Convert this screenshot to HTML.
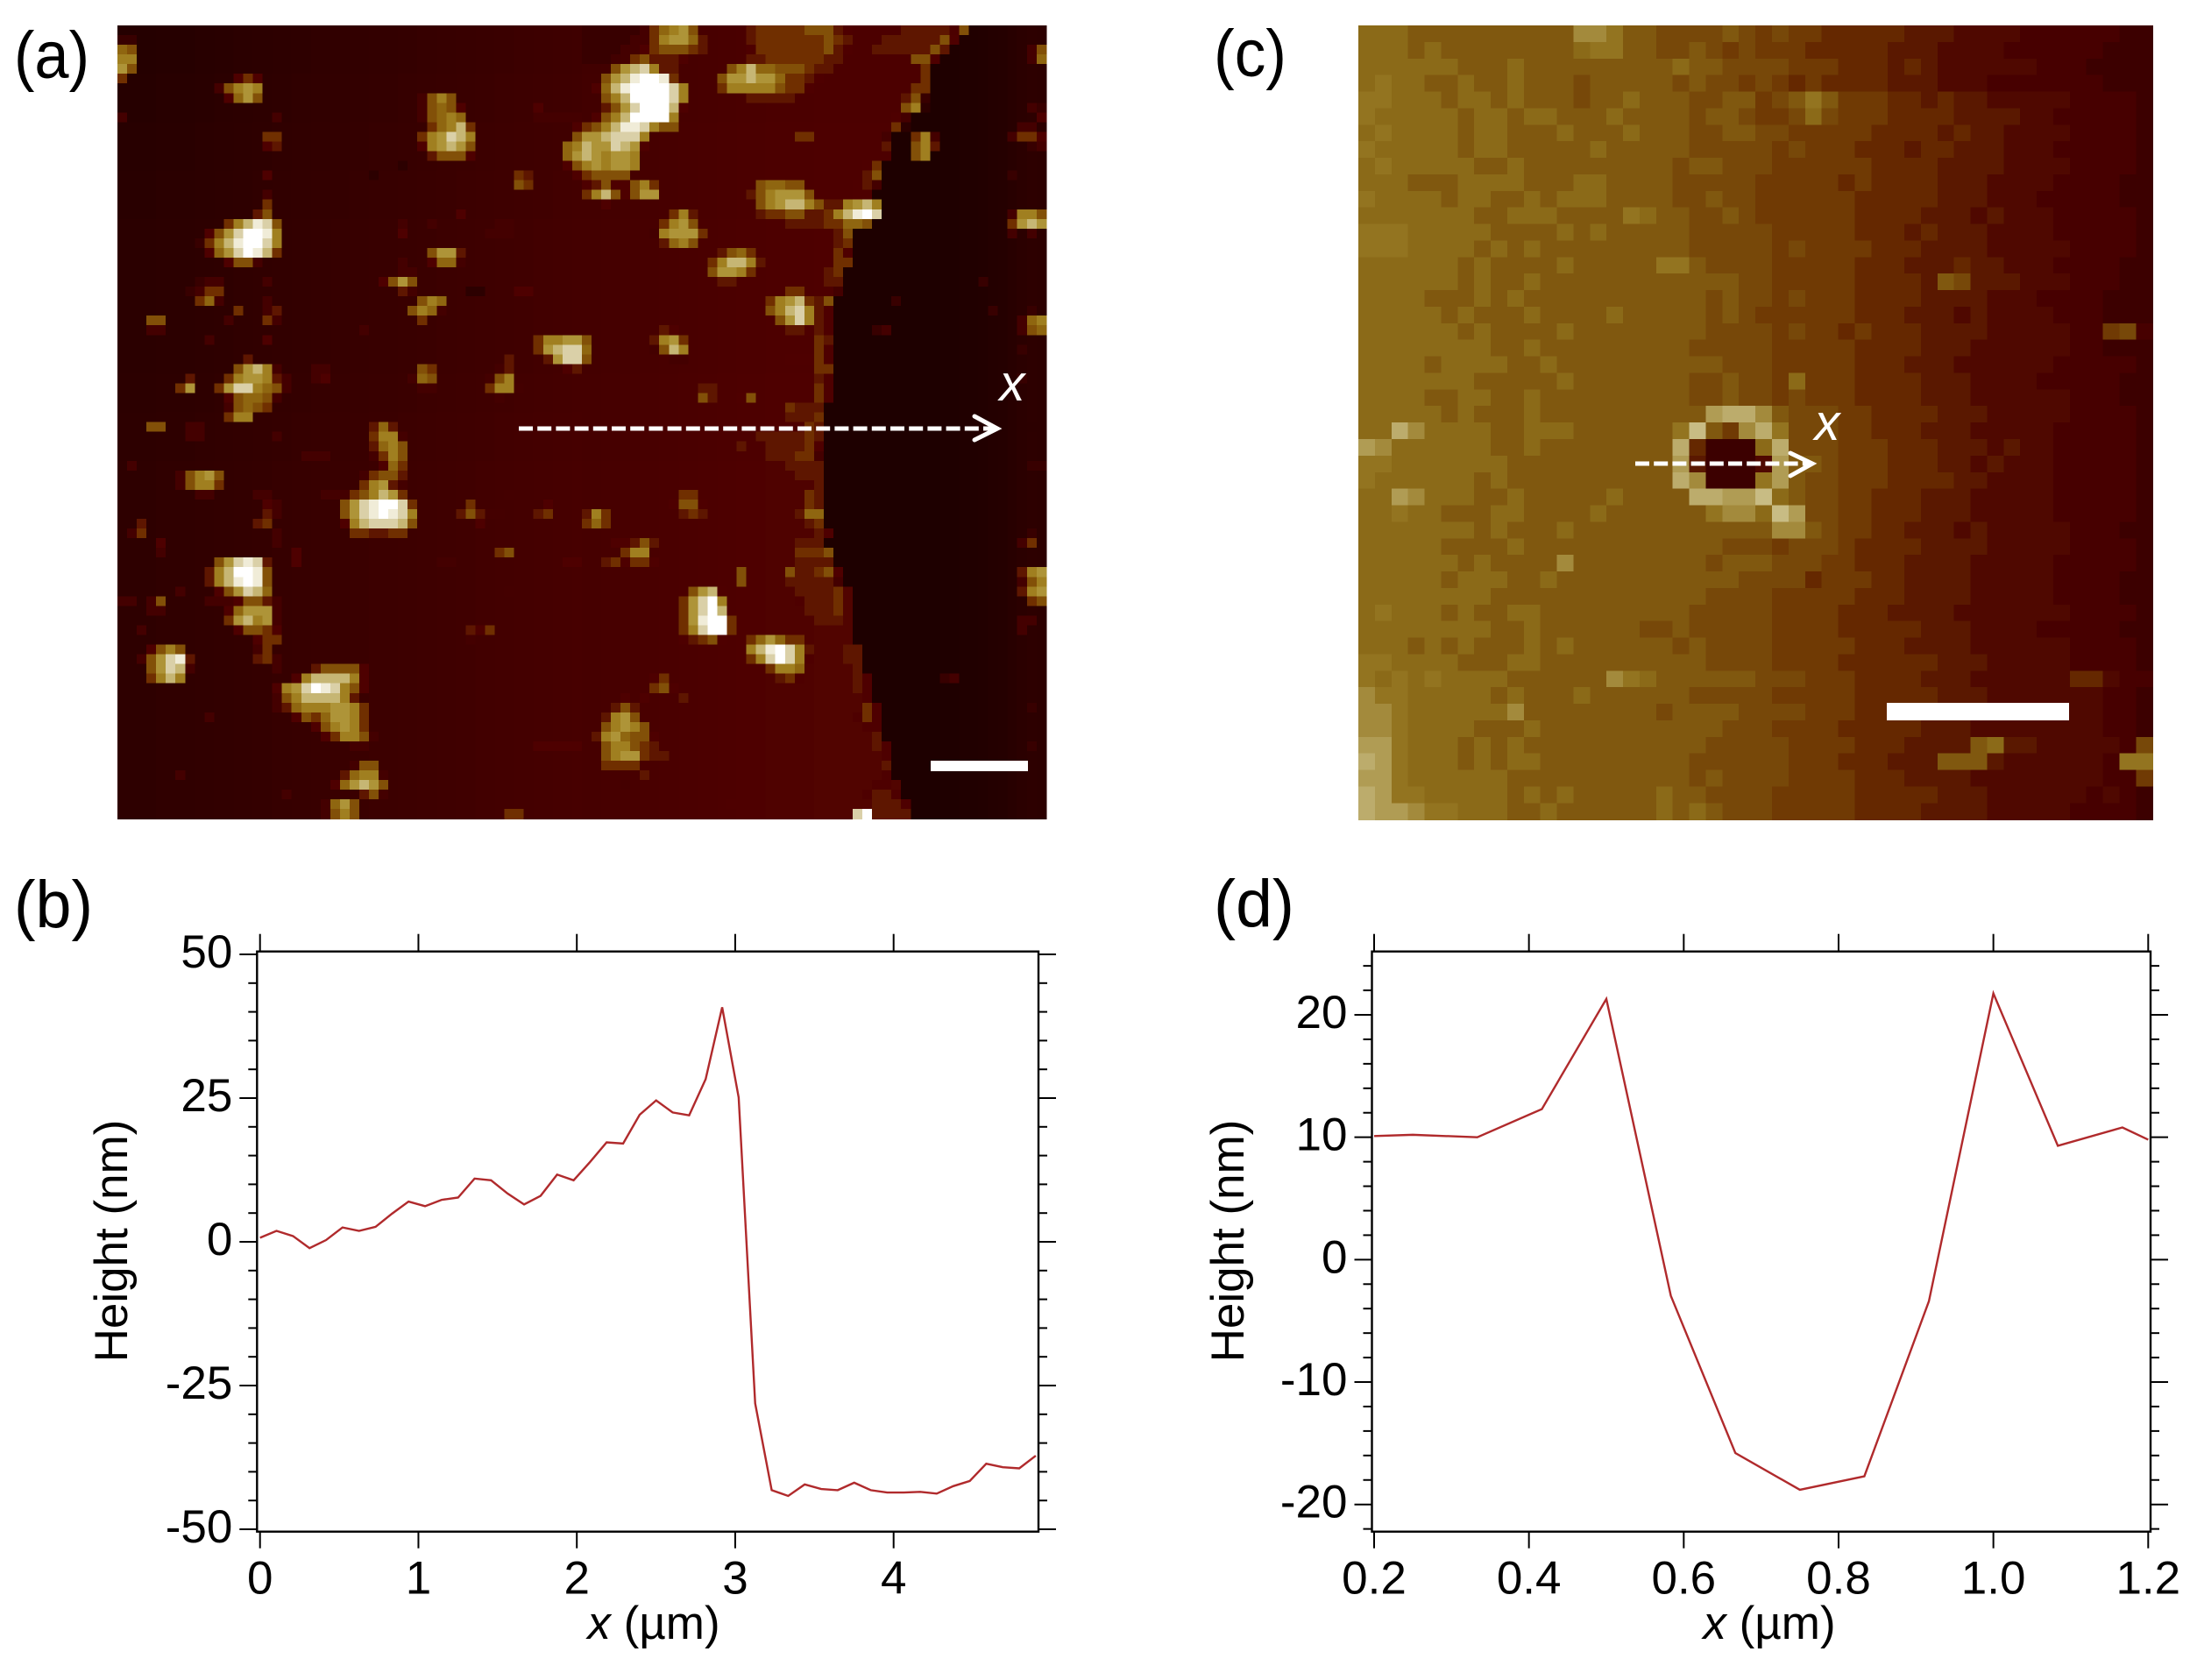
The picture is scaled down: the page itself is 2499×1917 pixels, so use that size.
<!DOCTYPE html>
<html lang="en">
<head>
<meta charset="utf-8">
<title>AFM height maps and line profiles</title>
<style>
html,body{margin:0;padding:0;background:#fff;}
svg{display:block;font-family:"Liberation Sans",sans-serif;}
</style>
</head>
<body>
<svg id="figure" xmlns="http://www.w3.org/2000/svg" width="2499" height="1917" viewBox="0 0 2499 1917">
  <rect x="0" y="0" width="2499" height="1917" fill="#ffffff"/>
  <g id="mapA"></g>
  <g id="mapC"></g>
  <g id="plotB"></g>
  <g id="plotD"></g>

  <g fill="none" stroke="#ffffff" stroke-width="5">
    <line x1="592" y1="489" x2="1134" y2="489" stroke-dasharray="16 5.2"/>
    <polyline points="1112,475 1138,489 1112,502" stroke-linecap="round"/>
  </g>
  <text x="1155" y="457" font-size="58" font-style="italic" fill="#ffffff" text-anchor="middle">x</text>
  <rect x="1062" y="868" width="111" height="12" fill="#ffffff"/>

  <g fill="none" stroke="#ffffff" stroke-width="5">
    <line x1="1866" y1="529" x2="2064" y2="529" stroke-dasharray="16 5.2"/>
    <polyline points="2043,517 2068,529 2043,543" stroke-linecap="round"/>
  </g>
  <text x="2085" y="502" font-size="58" font-style="italic" fill="#ffffff" text-anchor="middle">x</text>
  <rect x="2153" y="802" width="208" height="20" fill="#ffffff"/>

  <text x="16" y="89" font-size="76" textLength="86" lengthAdjust="spacingAndGlyphs" fill="#000">(a)</text>
  <text x="1385" y="87" font-size="76" textLength="83" lengthAdjust="spacingAndGlyphs" fill="#000">(c)</text>
  <text x="16" y="1058" font-size="76" textLength="90" lengthAdjust="spacingAndGlyphs" fill="#000">(b)</text>
  <text x="1385" y="1057" font-size="76" textLength="92" lengthAdjust="spacingAndGlyphs" fill="#000">(d)</text>
</svg>

<script>
/* ---------- panel (b) line profile ---------- */
const profileStepB = 0.1042;
const heightsB = [0.7,1.9,1.0,-1.1,0.3,2.5,1.9,2.6,4.9,7.0,6.2,7.3,7.7,11.0,10.7,8.4,6.5,8.0,11.7,10.7,13.9,17.3,17.1,22.1,24.6,22.5,22.0,28.3,40.8,25.1,-28.1,-43.2,-44.2,-42.2,-43.0,-43.2,-41.9,-43.2,-43.6,-43.6,-43.5,-43.8,-42.5,-41.6,-38.6,-39.2,-39.4,-37.2];
const xTicksB = [0,1,2,3,4];
const xTickLabelsB = ["0","1","2","3","4"];
const yTicksB = [50,25,0,-25,-50];
const yTickLabelsB = ["50","25","0","-25","-50"];
const yMinorStepB = 5;

/* ---------- panel (d) line profile ---------- */
const positionsD = [0.2,0.25,0.3333,0.4167,0.5,0.5833,0.6667,0.75,0.8333,0.9167,1.0,1.0833,1.1667,1.2];
const heightsD = [10.1,10.2,10.0,12.3,21.3,-2.95,-15.8,-18.8,-17.7,-3.4,21.75,9.3,10.8,9.8];
const xTicksD = [0.2,0.4,0.6,0.8,1.0,1.2];
const xTickLabelsD = ["0.2","0.4","0.6","0.8","1.0","1.2"];
const yTicksD = [20,10,0,-10,-20];
const yTickLabelsD = ["20","10","0","-10","-20"];
const yMinorStepD = 2;

/* ---------- panel (a) height levels: 0 dark .. f white, sparse "column:levels" per row ---------- */
const paletteA = ["#160000","#1e0000","#2c0000","#380000","#440000","#4e0000","#5e1600","#702f00","#825008","#8f6610","#a07f20","#ae9438","#c6b674","#dad0a8","#f0ecd8","#ffffff"];
const baseColumnA = [1.9,1.9,1.9,1.9,2,2,2,2,2.1,2.1,2.2,2.2,2.3,2.3,2.4,2.4,2.5,2.5,2.6,2.6,2.7,2.7,2.8,2.8,2.9,2.9,3,3,3,3.1,3.1,3.2,3.2,3.3,3.3,3.4,3.4,3.5,3.5,3.6,3.6,3.7,3.7,3.8,3.8,3.9,3.9,4,4,4,4.1,4.1,4.2,4.2,4.3,4.3,4.4,4.4,4.5,4.5,4.6,4.6,4.7,4.7,4.8,4.8,4.8,4.9,4.9,4.9,4.9,4.9,5,5,5,5,5,5,5,5,5,5,5,5,5,5,5,5,5,5,5,5,5,5,5,5];
const baseRowOffsetA = [-0.4,-0.4,-0.4,-0.4,-0.4,-0.3,-0.3,-0.3,-0.3,-0.3,-0.2,-0.2,-0.2,-0.2,-0.2,-0.1,-0.1,-0.1,-0.1,-0.1,0,0,0,0,0,0,0,0,0,0,0,0,0,0,0,0,0.1,0.1,0.1,0.1,0.2,0.2,0.2,0.2,0.2,0.3,0.3,0.3,0.3,0.3,0.3,0.3,0.3,0.3,0.3,0.3,0.3,0.3,0.3,0.3,0.3,0.3,0.3,0.3,0.3,0.3,0.3,0.3,0.3,0.3,0.3,0.3,0.3,0.3,0.3,0.3,0.3,0.3,0.3,0.3,0.3,0.3];
const darkColumnA = [1,1,1,1,1,1,1,1,1,1,1,1,1,1,1,1,1,1,1,1,1,1,1,1,1,1,1,1,1,1,1,1,1,1,1,1,1,1.1,1.1,1.2,1.2,1.3,1.4,1.5,1.7,1.9,2.1,2];
const edgeRightA = [40,39,38,37,36,36,36,36,35,34,33,32,32,32,31,31,31,30,31,31,30,28,28,28,28,27,27,27,26,26,26,26,26,26,26,26,26,26,25,25,25,25,25,25,25,25,25,25,25,25,25,25,25,25,25,26,27,27,28,28,28,28,28,28,29,29,29,30,30,30,31,31,31,31,32,32,32,32,33,33,34,34];
const featuresLeftA = [
"","0:33","0:98","0:aa","0:b8","0:7 12:575","10:48aba","11:59b8 31:48a8","31:48985 43:5","0:4 16:4 31:489a9 43:44444",
"32:79ac7 47:5","15:77 31:7abdca 47:8","15:56 31:5abcb8 46:9a","32:68885 46:9b","29:2 46:58","15:5 26:2 41:76 47:5","41:87","15:4","15:7","14:68 35:5",
"11:7aced8 29:4 32:4 39:44","9:58bdffea 29:5 38:444","8:37aceffda","9:59bdfec7 32:8bb6","11:5884 29:4 32:5994","29:44","8:344 15:4 27:58b8","7:3477 29:64 36:22 41:55","8:794 15:4 30:38a9","12:7 15:46 30:8a94",
"3:88 11:4 15:74 31:7","3:44 25:4 47:4","9:4 15:5 43:7aabb","43:7bcdd","13:6 40:6 44:6bdd","12:8bca4 20:44 31:87 39:46 46:56","7:6 11:7abba64 20:45 30:498 38:48a","6:7b 10:7bdda984 31:44 38:7aa4","11:589984 39:4","11:48987",
"11:7aa","3:88 7:44 26:696","7:44 16:4 26:7aa4","26:69a8","19:444 26:47a8","1:4 27:597","6:48ab8 25:47886","6:48aa7 25:7ab64","8:44 14:44 21:444 24:78acb7 40:4","15:54 23:8bdeffd7 36:7 43:45",
"15:64 23:8bdefeda 35:68644 43:67","2:6 14:67 23:5acdddc8 37:5","1:47 16:4 24:776677","4:5 16:4","4:4 18:5 39:78","10:8bded6 18:5 33:44 46:55","9:6acffe8","9:6acefe8","6:4 10:58bdc9 40:4","0:44 3:48 9:44458864",
"3:44 11:59bbb4","11:7bcab4","2:4 12:58875 36:657","14:577 36:4","3:58a8 14:47","2:48bde6 14:674","3:8bdc4 16:4 20:688885","3:7aca 18:5acccca5","16:5abdfeda85","16:48acccca6",
"16:469aaabba7","9:4 18:5879bba7","20:58aba7","21:57aa84","24:44 43:55555","","24:488","6:4 23:69aa4","22:59bcb8","17:4 25:684",
"21:49b8","21:48a8 40:77"
];
const featuresRightA = [
"0:333333 7:79ab8 17:67777788865 33:66666 39:8","0:33333 7:7abb96 17:67777777876 31:666666 37:85","0:3333 6:5788876 17:57777777865 30:666666 36:86 46:48","0:333 5:786665 17:6677777766 34:885 46:49","3:8bcda66 15:8ac99888766 35:7","2:8bceffe7 14:8bbcbb97765 35:7","1:59ceffffda 14:7aaaaa8775 34:77","2:8acffffda 17:66666 33:683","2:68bdfffc5 33:8a2 46:43","1:58acffffa 32:54 47:5",
"0:78aceeda88 32:72 45:44","0:bbcddda 22:77 31:4 34:7a4 44:4775","0:cbbdcb5 31:6 34:8a6 46:34","0:cbabba 34:8a","0:ababba 29:57","0:78888 29:68 44:3","0:568558a7 18:89988 28:564","0:7ac858bb 17:68abbb8 28:55","2:5 18:8abcca86 26:6abca","9:7a6 18:67788667 26:acefd 44:4aa8",
"8:7ab8 21:66667 26:7998 44:7bcb","7:4abbb7 26:68 44:4 46:4","8:69a8 26:67","14:6897 26:75","13:7acca6 26:77","13:8bba7 25:67","14:66 25:66 41:3","21:77 25:54","19:7abc768 32:3","19:8acda65 42:3 46:3",
"20:8bda65 45:49a","8:65 21:66565 30:34 45:489","0:8 7:6ab7 24:76","0:9 7:48ca 24:7 45:3","0:8 9:44 21:5557","24:77","24:65 45:3","12:66 24:75","12:86 16:58 21:5 24:75","21:7666",
"21:6667","23:76 46:22","18:66666 23:76","16:6 19:6666 23:75","19:666 22:774","21:6666 46:33","22:666","24:6","10:77 23:76","9:5885 23:76",
"0:6a7 10:676 22:699","0:797 23:67","24:65 46:3","3:55686 22:666 45:47","4:7aa 22:7778","2:675775 22:6666","16:85 21:866785 45:6ab","16:8 21:666664 45:48a","11:8bc5 22:66667 45:6ab","10:7bdfa 22:56667 46:78",
"10:7bdfc 23:6667","10:7beff7 24:666 45:44","10:7adff7 45:4","10:56785 17:79b977","16:5acefda6 27:66","17:7adfda5 27:66","19:7aa9 28:6","7:57 20:675 28:65 37:34","7:785 28:65","4:5 6:5 10:6 29:5",
"3:686 29:75 46:3","2:6ab8 28:575","2:8aba8 29:55","1:6ab9885 30:6","2:8aa876 30:65 46:3","2:8abb766 31:5","2:7777 31:6","6:6 31:5","4:4 30:55","29:5665",
"15:555 30:6665","28:df6666"
];

/* ---------- panel (c) height levels, one character per cell ---------- */
const paletteC = ["#3c0000","#470000","#4f0800","#5a1800","#652800","#703a04","#774809","#80580f","#8b6a18","#937420","#a38a3c","#b09c54","#bcac6c","#c8bc84"];
const heightRowsC = [
"888777777777 7aa977666676565544444333222211111100",
"888787777777789977667656555444443332222111111000",
"888888777877777777787766665554443432222221110000",
"898877877877767777767665654544443332221111111000",
"998887887877767787776677567975554434332222211110",
"988888788788777877776776556865554444333322111110",
"898888788777877787776677665555544443433222211110",
"988888788777778777776666656555444344333222111110",
"898888877877777777767766655555544443333222211110",
"888777888877788777766666555554544443332222111100",
"988887887787888777766766555555444443332221111100",
"888888877888777798776676555555444433323222111110",
"999888887777878777776666655555444343332222111110",
"999888878787777777776666656555544433332222211110",
"888888787777877777997666655555444333433222111100",
"888888787787777777777776655555444437633322211100",
"888877787877777777777676656555444433332221111000",
"888887877787777877777676555555444333232222111000",
"888888787777877777777666656554544433332222211561",
"888888887787777777776666655555444433322222211000",
"888878888778777777777766655555444333222222111110",
"888888877777877777776676658555444433322221111100",
"888877887787777777776676656555444433322222211100",
"888887877787777777777bcca76665544443332222211110",
"88ca8888778887777779d75ac96665544433322222111110",
"ba88888877877777777c40008c6665554443332322111110",
"9988888887777777777b30002b7765554443323222111110",
"9888888787777777777ca0009b7665554444332222111110",
"88ba8887787777787777ccbbd87665544433322222111110",
"8898877788777787777779aa8db665544433322222111110",
"8888888787778777777777777aa765544333232222211100",
"888887777877777777777766656665444433332222211110",
"888888787777a77777777677766655444333322222111110",
"888887888778777777777776666455544333322222111100",
"888888887777777777777666655555444333322222111100",
"898887877887777777776666655554443333222222211110",
"888888887787777776676666655554444433322221111100",
"888787877787877777767666655555444333322222211110",
"998888777887777777777666655554444443332222211110",
"989898888777777a9877777766655 54444333222222 44211",
"a998888878777877777766666555554444433322222 22110",
"aa9888888a7777777767777666655 5444333323222222110",
"aa98888777877777777777666555544444333222222 22110",
"bb98887878777777777776666655554443333783322222 16",
"cb98887878877777777766666655 54443337773222222 19",
"bb98888887777777777767666655554443333222222 22115",
"cb9988888787877777877666655555444443332222221210",
"cbba99888778777777878766655555444433332222211110"
].map(s => s.split(" ").join(""));

/* ---------- drawing ---------- */
const SVGNS = "http://www.w3.org/2000/svg";
function mk(tag, attrs, parent) {
  const el = document.createElementNS(SVGNS, tag);
  for (const k in attrs) el.setAttribute(k, attrs[k]);
  parent.appendChild(el);
  return el;
}
function linear(d0, d1, r0, r1) {
  return v => r0 + (v - d0) * (r1 - r0) / (d1 - d0);
}
function hexToRgb(h) {
  return [parseInt(h.slice(1, 3), 16), parseInt(h.slice(3, 5), 16), parseInt(h.slice(5, 7), 16)];
}
function colorAt(palette, lvl) {
  const l = Math.max(0, Math.min(palette.length - 1, lvl));
  const i = Math.floor(l);
  const j = Math.min(palette.length - 1, i + 1);
  const f = l - i;
  const a = hexToRgb(palette[i]);
  const b = hexToRgb(palette[j]);
  return "rgb(" + [0, 1, 2].map(k => Math.round(a[k] + (b[k] - a[k]) * f)).join(",") + ")";
}
function expandSparse(spec, width, out, offset) {
  spec.split(" ").filter(Boolean).forEach(tok => {
    const parts = tok.split(":");
    const start = parseInt(parts[0], 10);
    for (let i = 0; i < parts[1].length; i++) {
      const col = start + i;
      if (col < width) out[offset + col] = parseInt(parts[1][i], 16);
    }
  });
}
function drawMap(parent, matrix, palette, left, top, cell, prefix) {
  matrix.forEach((row, r) => {
    row.forEach((lvl, c) => {
      const rect = mk("rect", {
        x: (left + c * cell).toFixed(2),
        y: (top + r * cell).toFixed(2),
        width: (cell + 0.6).toFixed(2),
        height: (cell + 0.6).toFixed(2),
        fill: colorAt(palette, lvl),
        "shape-rendering": "crispEdges"
      }, parent);
      
      
    });
  });
}

/* panel (a) matrix from the sparse rows */
const matrixA = [];
for (let r = 0; r < featuresLeftA.length; r++) {
  const row = new Array(96);
  for (let c = 0; c < 48; c++) row[c] = baseColumnA[c] + baseRowOffsetA[r];
  for (let c = 0; c < 48; c++) row[48 + c] = c < edgeRightA[r] ? baseColumnA[48 + c] + baseRowOffsetA[r] * 0.6 : darkColumnA[c];
  expandSparse(featuresLeftA[r], 48, row, 0);
  expandSparse(featuresRightA[r], 48, row, 48);
  matrixA.push(row);
}
drawMap(document.getElementById("mapA"), matrixA, paletteA, 134, 29, 11.04, "map-a");

/* panel (c) matrix */
const matrixC = heightRowsC.map(s => {
  const row = [];
  for (let c = 0; c < 48; c++) {
    const ch = c < s.length ? s[c] : s[s.length - 1];
    row.push(parseInt(ch, 16));
  }
  return row;
});
drawMap(document.getElementById("mapC"), matrixC, paletteC, 1550, 29, 18.88, "map-c");

function drawPlot(o) {
  const g = o.parent;
  const sx = o.sx, sy = o.sy;
  const F = o.frame;

  o.xTicks.forEach((v, i) => {
    const x = sx(v);
    const t = mk("line", {x1: x, x2: x, y1: F.top - 20, y2: F.top, stroke: "#000", "stroke-width": 2}, g);
    
    
    const b = mk("line", {x1: x, x2: x, y1: F.bottom, y2: F.bottom + 19, stroke: "#000", "stroke-width": 2}, g);
    
    
    const lab = mk("text", {x: x, y: 1818.5, "font-size": 53, "text-anchor": "middle", fill: "#000"}, g);
    
    
    lab.textContent = o.xLabels[i];
  });

  for (let v = o.yMinorFrom; v <= o.yMinorTo; v += o.yMinorStep) {
    const y = sy(v);
    const isMajor = o.yTicks.indexOf(v) >= 0;
    const len = isMajor ? 20 : 10;
    const l = mk("line", {x1: F.left - len, x2: F.left, y1: y, y2: y, stroke: "#000", "stroke-width": 2}, g);
    
    
    const r = mk("line", {x1: F.right, x2: F.right + len, y1: y, y2: y, stroke: "#000", "stroke-width": 2}, g);
    
    
  }
  o.yTicks.forEach((v, i) => {
    const lab = mk("text", {x: F.left - 28, y: sy(v) + 15, "font-size": 53, "text-anchor": "end", fill: "#000"}, g);
    
    
    lab.textContent = o.yLabels[i];
  });

  const frame = mk("rect", {x: F.left, y: F.top, width: F.right - F.left, height: F.bottom - F.top, fill: "none", stroke: "#000", "stroke-width": 2.4}, g);
  
  

  const pts = o.xs.map((x, i) => sx(x).toFixed(2) + "," + sy(o.ys[i]).toFixed(2)).join(" ");
  const line = mk("polyline", {points: pts, fill: "none", stroke: "#b02a2c", "stroke-width": 2.4, "stroke-linejoin": "miter"}, g);
  
  

  const yTitle = mk("text", {transform: "translate(" + o.yTitleX + ",1416) rotate(-90)", "font-size": 53, "text-anchor": "middle", fill: "#000"}, g);
  
  
  yTitle.textContent = "Height (nm)";

  const xTitle = mk("text", {x: o.xTitleX, y: 1870, "font-size": 53, "text-anchor": "middle", fill: "#000"}, g);
  
  
  const it = mk("tspan", {"font-style": "italic"}, xTitle);
  
  
  it.textContent = "x";
  xTitle.appendChild(document.createTextNode(" (\u00B5m)"));
}

const positionsB = heightsB.map((_, i) => i * profileStepB);

drawPlot({
  parent: document.getElementById("plotB"),
  frame: {left: 293.3, right: 1185, top: 1085.7, bottom: 1747.7},
  sx: linear(0, 4, 296.7, 1019.7),
  sy: linear(-50, 50, 1745, 1089),
  xs: positionsB, ys: heightsB,
  xTicks: xTicksB, xLabels: xTickLabelsB,
  yTicks: yTicksB, yLabels: yTickLabelsB,
  yMinorFrom: -50, yMinorTo: 50, yMinorStep: yMinorStepB,
  yTitleX: 145, xTitleX: 746
});

drawPlot({
  parent: document.getElementById("plotD"),
  frame: {left: 1565.5, right: 2454, top: 1085.7, bottom: 1747.7},
  sx: linear(0.2, 1.2, 1568, 2451.3),
  sy: linear(-20, 20, 1716.7, 1158),
  xs: positionsD, ys: heightsD,
  xTicks: xTicksD, xLabels: xTickLabelsD,
  yTicks: yTicksD, yLabels: yTickLabelsD,
  yMinorFrom: -22, yMinorTo: 24, yMinorStep: yMinorStepD,
  yTitleX: 1419, xTitleX: 2019
});
</script>
</body>
</html>
